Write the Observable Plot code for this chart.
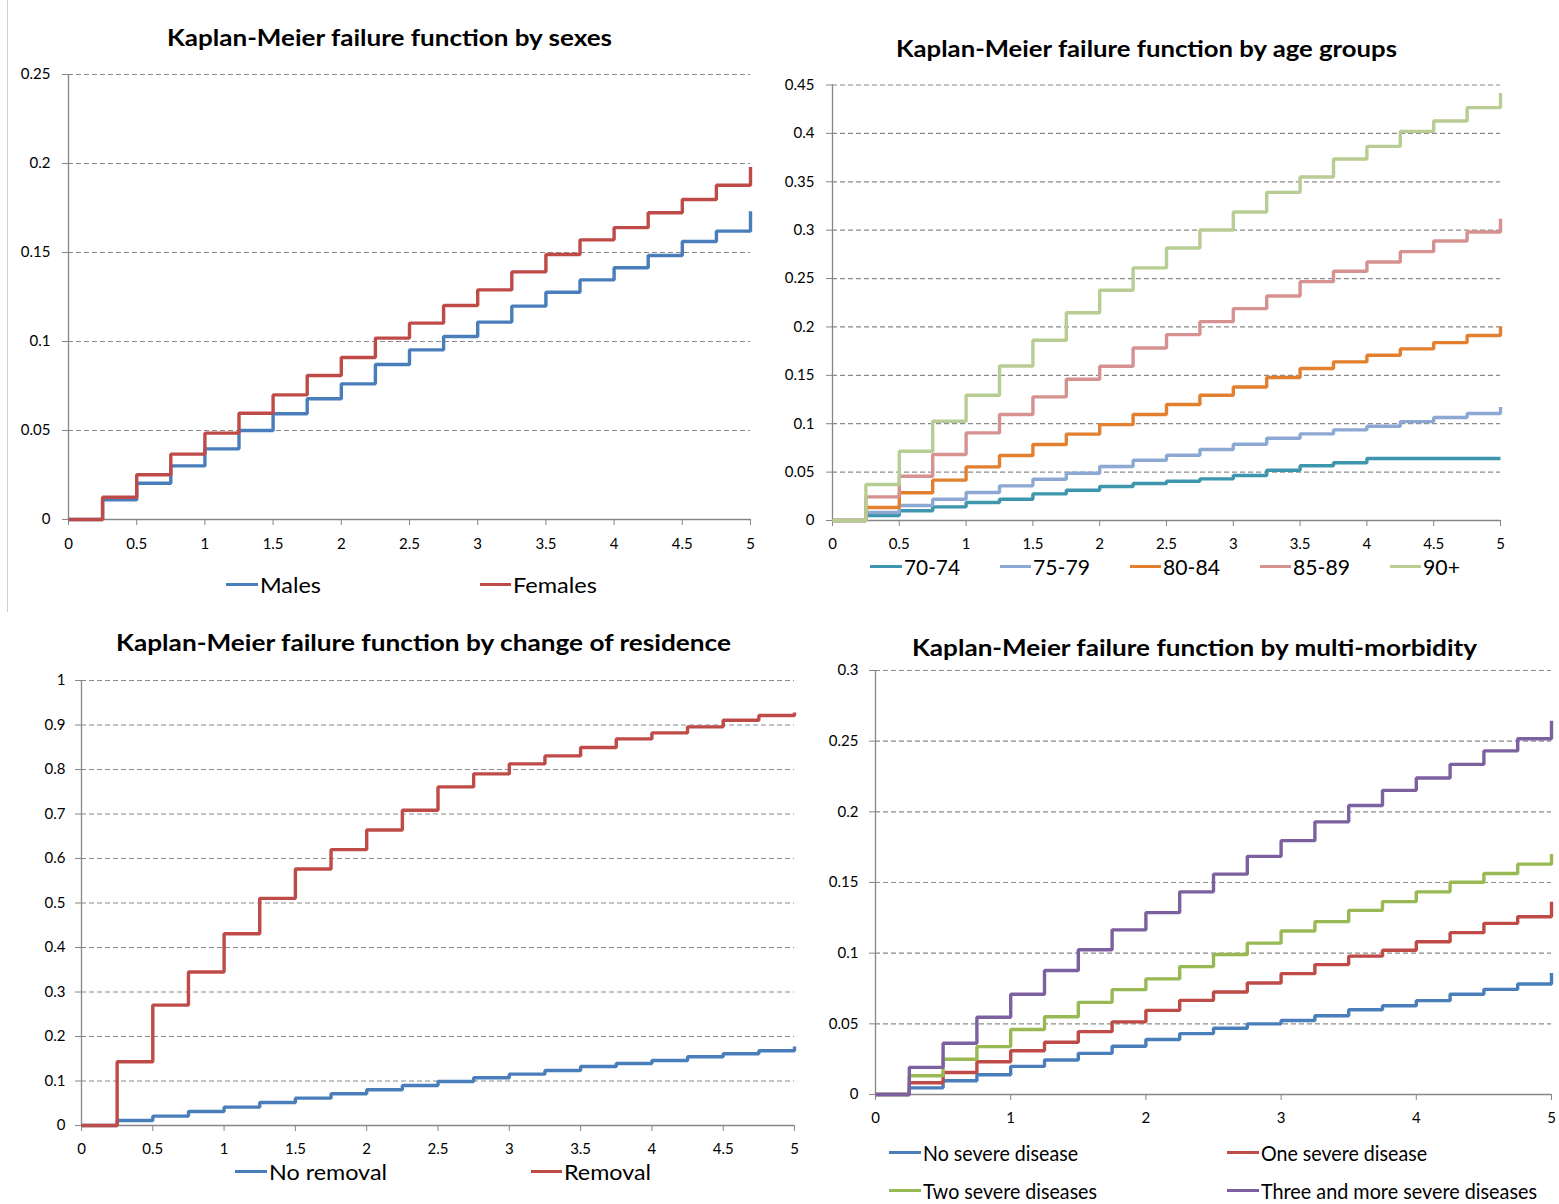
<!DOCTYPE html>
<html><head><meta charset="utf-8">
<script src="https://cdn.jsdelivr.net/npm/d3@7"></script>
<script src="https://cdn.jsdelivr.net/npm/@observablehq/plot@0.6"></script>
<style>
body{margin:0;background:#fff;}
#page{position:relative;width:1559px;height:1204px;overflow:hidden;background:#fff;font-family:Lato,"Open Sans",sans-serif;color:#000;}
.abs{position:absolute;white-space:nowrap;transform-origin:0 50%;}
svg{position:absolute;overflow:visible;}
</style></head><body><div id="page"></div>
<script>
// ---- data ----
const times = [0,0.25,0.5,0.75,1,1.25,1.5,1.75,2,2.25,2.5,2.75,3,3.25,3.5,3.75,4,4.25,4.5,4.75,5];

const sexNames = ["Males","Females"];
const males   = [0,0.011,0.0204,0.0301,0.0397,0.05,0.0594,0.0678,0.0762,0.0871,0.0953,0.1028,0.1109,0.1199,0.1277,0.1346,0.1414,0.1483,0.1562,0.162,0.1732];
const females = [0,0.0125,0.0251,0.0367,0.0485,0.0597,0.070,0.0809,0.091,0.1019,0.1103,0.1202,0.129,0.1391,0.1489,0.1571,0.164,0.1723,0.1798,0.1878,0.198];

const ageNames = ["70-74","75-79","80-84","85-89","90+"];
const age7074 = [0,0.0052,0.01,0.0141,0.0186,0.022,0.0275,0.0313,0.0351,0.0382,0.0406,0.043,0.0465,0.052,0.0565,0.0596,0.064,0.064,0.064,0.064,0.064];
const age7579 = [0,0.0083,0.0155,0.022,0.0289,0.0358,0.0427,0.0489,0.0558,0.0623,0.0675,0.0733,0.0788,0.085,0.0895,0.0936,0.0974,0.1022,0.1064,0.1105,0.1174];
const age8084 = [0,0.0134,0.0286,0.0417,0.0554,0.0671,0.0785,0.0892,0.0991,0.1095,0.1198,0.1294,0.138,0.1477,0.157,0.1639,0.1707,0.1773,0.1838,0.1911,0.2007];
const age8589 = [0,0.0244,0.0458,0.0682,0.0905,0.1095,0.1277,0.146,0.1594,0.1783,0.1921,0.2055,0.2189,0.232,0.2468,0.2575,0.2671,0.2778,0.2888,0.2981,0.3119];
const age90   = [0,0.0372,0.0716,0.1026,0.1294,0.1597,0.1862,0.2147,0.2379,0.261,0.2816,0.3002,0.3188,0.3391,0.355,0.3736,0.3866,0.4021,0.4128,0.4266,0.4417];

const resNames = ["No removal","Removal"];
const noRemoval = [0,0.0112,0.021,0.0315,0.0412,0.0517,0.0615,0.0712,0.0802,0.09,0.099,0.1072,0.1154,0.1237,0.1327,0.1394,0.1462,0.1544,0.1612,0.1679,0.1777];
const removal   = [0,0.1432,0.2706,0.3448,0.431,0.5105,0.5765,0.62,0.6642,0.7084,0.7609,0.7901,0.8126,0.8306,0.8493,0.8688,0.8823,0.8958,0.9108,0.9213,0.928];

const morbNames = ["No severe disease","One severe disease","Two severe diseases","Three and more severe diseases"];
const morb0 = [0,0.0047,0.0097,0.014,0.0199,0.0244,0.0291,0.0341,0.0389,0.0431,0.0469,0.05,0.0524,0.0557,0.06,0.0628,0.0664,0.0709,0.0744,0.0782,0.086];
const morb1 = [0,0.0083,0.0156,0.0232,0.031,0.037,0.0445,0.0514,0.0595,0.0666,0.0725,0.0789,0.0855,0.0919,0.0979,0.1021,0.1081,0.1145,0.1211,0.1258,0.1363];
const morb2 = [0,0.0133,0.0249,0.0339,0.046,0.055,0.0652,0.0742,0.0818,0.0905,0.0991,0.1071,0.1157,0.1223,0.1303,0.1365,0.1434,0.1502,0.1564,0.163,0.1701];
const morb3 = [0,0.0192,0.0363,0.0547,0.0709,0.0877,0.1024,0.1165,0.1287,0.1434,0.1559,0.1685,0.1796,0.1929,0.2045,0.2152,0.2239,0.2336,0.2431,0.2517,0.2645];

const titles = [
  "Kaplan-Meier failure function by sexes",
  "Kaplan-Meier failure function by age groups",
  "Kaplan-Meier failure function by change of residence",
  "Kaplan-Meier failure function by multi-morbidity"
];
const yTicks1 = [0,0.05,0.1,0.15,0.2,0.25];
const yTicks2 = [0,0.05,0.1,0.15,0.2,0.25,0.3,0.35,0.4,0.45];
const yTicks3 = [0,0.1,0.2,0.3,0.4,0.5,0.6,0.7,0.8,0.9,1];
const yTicks4 = [0,0.05,0.1,0.15,0.2,0.25,0.3];
const xTicksHalf = [0,0.5,1,1.5,2,2.5,3,3.5,4,4.5,5];
const xTicksInt = [0,1,2,3,4,5];

// ---- styling ----
const BLUE="#4A7EBB", RED="#BE4B48", GREEN="#98B954", PURPLE="#7D60A0";
const AGE_COLORS=["#3E95AE","#8EA8D4","#E2802F","#D69291","#B8CD93"];
const AXIS="#868686", GRID="#8a8a8a";
const page = document.getElementById("page");

function series(names, arrays){
  const rows=[];
  names.forEach((n,i)=>arrays[i].forEach((v,j)=>rows.push({name:n,t:times[j],v})));
  return rows;
}
const fmt = d => String(+d.toFixed(2));

function panel(cfg){
  const {x0,x1,yTop,yBot,svgLeft,svgTop,svgW,svgH,yMax,yTicks,xTicks,names,arrays,colors,yPad,xPad} = cfg;
  const data = series(names, arrays);
  const chart = Plot.plot({
    width: svgW, height: svgH,
    marginLeft: x0-svgLeft, marginRight: svgLeft+svgW-x1,
    marginTop: yTop-svgTop, marginBottom: svgTop+svgH-yBot,
    style:{fontFamily:"Lato, 'Open Sans', sans-serif", fontSize:"15px", color:"#000", background:"transparent"},
    x:{domain:[0,5]},
    y:{domain:[0,yMax]},
    color:{domain:names, range:colors},
    marks:[
      Plot.ruleY(yTicks.filter(d=>d>0), {stroke:GRID, strokeWidth:1.2, strokeDasharray:"5,3"}),
      Plot.axisY({ticks:yTicks, tickFormat:fmt, tickSize:6, tickPadding:yPad, stroke:AXIS, fill:"#000", label:null, fontSize:15}),
      Plot.axisX({ticks:xTicks, tickFormat:fmt, tickSize:6, tickPadding:xPad, stroke:AXIS, fill:"#000", label:null, fontSize:15}),
      Plot.ruleX([0], {stroke:AXIS, strokeWidth:1.3}),
      Plot.ruleY([0], {stroke:AXIS, strokeWidth:1.3}),
      Plot.line(data, {x:"t", y:"v", z:"name", stroke:"name", curve:"step-after", strokeWidth:3.4, strokeLinejoin:"miter", strokeLinecap:"butt"})
    ]
  });
  chart.style.left = svgLeft+"px";
  chart.style.top = svgTop+"px";
  page.appendChild(chart);
}

function text(str, left, cy, size, width, bold){
  const s=document.createElement("div");
  s.className="abs";
  s.textContent=str;
  s.style.fontSize=size+"px";
  s.style.lineHeight=size+"px";
  if(bold) s.style.fontWeight="bold";
  page.appendChild(s);
  const w=s.getBoundingClientRect().width;
  s.style.left=left+"px";
  s.style.top=(cy-size/2)+"px";
  if(width) s.style.transform=`scaleX(${width/w})`;
  return s;
}
function title(str, x0, x1, cy){ text(str, x0, cy, 23, x1-x0, true); }
function legendItem(name, color, lx0, lx1, tx1, cy){
  const l=document.createElement("div");
  l.style.cssText=`position:absolute;left:${lx0}px;top:${cy-1.5}px;width:${lx1-lx0}px;height:3.4px;background:${color};`;
  page.appendChild(l);
  text(name, lx1+2, cy, 21, tx1-(lx1+2), false);
}

// left border line of the first image
const border=document.createElement("div");
border.style.cssText="position:absolute;left:7px;top:0;width:1px;height:612px;background:#cfcfcf;";
page.appendChild(border);

// Panel 1: sexes
title(titles[0], 167, 612, 37);
panel({x0:68,x1:750,yTop:74,yBot:519,svgLeft:0,svgTop:50,svgW:770,svgH:520,yMax:0.25,yTicks:yTicks1,xTicks:xTicksHalf,
  names:sexNames,arrays:[males,females],colors:[BLUE,RED],yPad:12,xPad:13});
legendItem(sexNames[0], BLUE, 226, 258, 321, 584);
legendItem(sexNames[1], RED, 480, 511, 597, 584);

// Panel 2: age groups
title(titles[1], 896, 1397, 48);
panel({x0:832,x1:1500,yTop:84.5,yBot:520,svgLeft:775,svgTop:60,svgW:784,svgH:500,yMax:0.45,yTicks:yTicks2,xTicks:xTicksHalf,
  names:ageNames,arrays:[age7074,age7579,age8084,age8589,age90],colors:AGE_COLORS,yPad:12,xPad:12});
const ageLeg=[[870,902,960],[1000,1031,1090],[1130,1161,1220],[1260,1291,1350],[1390,1421,1460]];
ageNames.forEach((n,i)=>legendItem(n, AGE_COLORS[i], ageLeg[i][0], ageLeg[i][1], ageLeg[i][2], 566));

// Panel 3: change of residence
title(titles[2], 116, 731, 642);
panel({x0:81,x1:794,yTop:680,yBot:1125,svgLeft:0,svgTop:660,svgW:810,svgH:500,yMax:1,yTicks:yTicks3,xTicks:xTicksHalf,
  names:resNames,arrays:[noRemoval,removal],colors:[BLUE,RED],yPad:10,xPad:12});
legendItem(resNames[0], BLUE, 235, 267, 387, 1171);
legendItem(resNames[1], RED, 531, 562, 651, 1171);

// Panel 4: multi-morbidity
title(titles[3], 912, 1477, 647);
panel({x0:875,x1:1551,yTop:670,yBot:1094,svgLeft:815,svgTop:655,svgW:744,svgH:480,yMax:0.3,yTicks:yTicks4,xTicks:xTicksInt,
  names:morbNames,arrays:[morb0,morb1,morb2,morb3],colors:[BLUE,RED,GREEN,PURPLE],yPad:11,xPad:12});
legendItem(morbNames[0], BLUE, 889, 921, 1078, 1152);
legendItem(morbNames[1], RED, 1227, 1259, 1427, 1152);
legendItem(morbNames[2], GREEN, 889, 921, 1097, 1190);
legendItem(morbNames[3], PURPLE, 1227, 1259, 1537, 1190);
</script></body></html>
